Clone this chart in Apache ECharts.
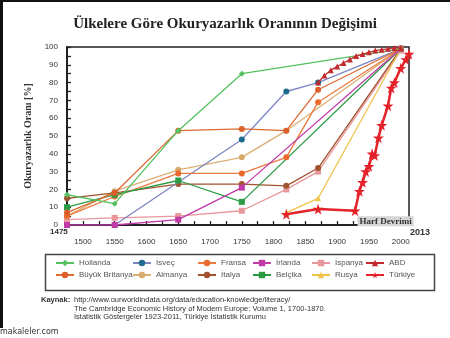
<!DOCTYPE html>
<html>
<head>
<meta charset="utf-8">
<script src="https://cdn.jsdelivr.net/npm/echarts/dist/echarts.min.js"></script>
<style>html,body{margin:0;padding:0;background:#fff;}#c{width:450px;height:338px;}</style>
</head>
<body>
<div id="c"></div>
<script>
// ---- data ----
const seriesNames = ['Hollanda','İsveç','Fransa','İrlanda','İspanya','ABD','Büyük Britanya','Almanya','İtalya','Belçika','Rusya','Türkiye'];
const hollanda = [[1475,17],[1550,12],[1650,53],[1750,85],[2000,99]];
const isvec = [[1550,0],[1750,48],[1820,75],[1870,80],[2000,99]];
const fransa = [[1475,5],[1550,16],[1650,29],[1750,29],[1820,38],[1870,69],[2000,99]];
const irlanda = [[1475,0],[1550,0],[1650,3],[1750,21],[2000,99]];
const ispanya = [[1475,3],[1550,4],[1650,5],[1750,8],[1820,20],[1870,30],[2000,98]];
const abd = [[1870,80],[1880,84],[1890,87],[1900,89],[1910,91],[1920,93],[1930,95],[1940,96],[1950,97],[1960,98],[1970,98.5],[1980,99],[1990,99.5],[2000,99.5]];
const buyukBritanya = [[1475,7],[1550,18],[1650,53],[1750,54],[1820,53],[1870,76],[2000,99]];
const almanya = [[1475,5],[1550,19],[1650,31],[1750,38],[1820,53],[2000,99]];
const italya = [[1475,15],[1550,18],[1650,23],[1750,23],[1820,22],[1870,32],[2000,99]];
const belcika = [[1475,10],[1550,17],[1650,25],[1750,13],[2000,99]];
const rusya = [[1820,7],[1870,15],[2000,99]];
const turkiye = [[1820,6],[1870,9],[1928,8],[1935,19],[1940,24],[1945,30],[1950,33],[1955,40],[1959,39],[1965,49],[1970,56],[1980,67],[1985,77],[1990,80],[2000,88],[2008,93],[2013,96]];
const xTickLabels = [1500,1550,1600,1650,1700,1750,1800,1850,1900,1950,2000];
const yTickLabels = [0,10,20,30,40,50,60,70,80,90,100];
const annotation = {name:'Harf Devrimi', year:1928, value:8};
const sources = ['http://www.ourworldindata.org/data/education-knowledge/literacy/',
  'The Cambridge Economic History of Modern Europe: Volume 1, 1700-1870.',
  'İstatistik Göstergeler 1923-2011, Türkiye İstatistik Kurumu'];

// ---- styles ----
const STAR = 'path://M50,0 L61,35 L98,35 L68,57 L79,91 L50,70 L21,91 L32,57 L2,35 L39,35 Z';
const cfg = {
  'Hollanda':       {d:hollanda, c:'#55c15f', lc:'#55c15f', s:'diamond', z:8},
  'İsveç':          {d:isvec, c:'#1f6b8e', lc:'#7d86c4', s:'circle', z:6},
  'Fransa':         {d:fransa, c:'#ea6a2e', lc:'#ea7a3e', s:'circle', z:6},
  'İrlanda':        {d:irlanda, c:'#c03aa8', lc:'#c03aa8', s:'rect', z:7},
  'İspanya':        {d:ispanya, c:'#e8979c', lc:'#e8979c', s:'rect', z:5},
  'ABD':            {d:abd, c:'#c22a30', lc:'#c22a30', s:'triangle', z:9},
  'Büyük Britanya': {d:buyukBritanya, c:'#dc5f2a', lc:'#dc6a32', s:'circle', z:7},
  'Almanya':        {d:almanya, c:'#d8a86c', lc:'#dcae74', s:'circle', z:5},
  'İtalya':         {d:italya, c:'#a0532e', lc:'#a0532e', s:'circle', z:5},
  'Belçika':        {d:belcika, c:'#2b9c45', lc:'#2b9c45', s:'rect', z:6},
  'Rusya':          {d:rusya, c:'#f0c24c', lc:'#f0c24c', s:'triangle', z:5},
  'Türkiye':        {d:turkiye, c:'#e4222a', lc:'#e4222a', s:STAR, z:10}
};

const series = seriesNames.map(n => {
  const o = cfg[n];
  const isT = n === 'Türkiye';
  const s = {
    name: n, type: 'line', data: o.d, z: o.z,
    symbol: o.s,
    symbolSize: isT ? 11 : (o.s === 'triangle' ? 6 : 6),
    itemStyle: {color: o.c},
    lineStyle: {color: o.lc, width: isT ? 2.5 : 1.3},
    emphasis: {disabled: true}
  };
  if (isT) {
    s.markPoint = {
      symbol: 'circle', symbolSize: 1, itemStyle:{color:'#e4222a'},
      data: [{coord: [annotation.year, annotation.value], name: annotation.name}],
      label: {show: true, formatter: annotation.name, position: [3, 6], align:'left', verticalAlign:'top',
        fontFamily: 'Liberation Serif', fontWeight: 'bold', fontSize: 9, color: '#333',
        backgroundColor: '#d6d6d6', padding: [1, 2, 0, 2]}
    };
  }
  return s;
});

const cols = [[seriesNames[0], seriesNames[6]],[seriesNames[1], seriesNames[7]],[seriesNames[2], seriesNames[8]],
              [seriesNames[3], seriesNames[9]],[seriesNames[4], seriesNames[10]],[seriesNames[5], seriesNames[11]]];
const colLeft = [50, 127, 192, 247, 306, 360];
const legends = cols.map((d, i) => ({
  data: d, orient: 'vertical', left: colLeft[i], top: 254, itemGap: 4,
  itemWidth: 18, itemHeight: 8, selectedMode: false,
  textStyle: {fontFamily: 'Liberation Sans', fontSize: 8, color: '#555'}
}));

const chart = echarts.init(document.getElementById('c'), null, {renderer: 'canvas'});
chart.setOption({
  animation: false,
  backgroundColor: '#fff',
  title: {text: 'Ülkelere Göre Okuryazarlık Oranının Değişimi', left: 'center', top: 12,
    textStyle: {fontFamily: 'Liberation Serif', fontWeight: 'bold', fontSize: 15, color: '#222'}},
  grid: {left: 67, right: 41, top: 47, bottom: 113, show: true, borderColor: '#222', borderWidth: 1.5, backgroundColor: 'transparent'},
  legend: legends,
  xAxis: {type: 'value', min: 1475, max: 2013, interval: 25,
    axisLine: {lineStyle: {color: '#222', width: 2}},
    axisTick: {inside: true, length: 4, lineStyle: {color: '#222', width: 1.3}},
    splitLine: {show: false},
    axisLabel: {showMinLabel: false, showMaxLabel: false, margin: 13,
      formatter: v => xTickLabels.indexOf(v) >= 0 ? String(v) : '',
      fontFamily: 'Liberation Sans', fontSize: 8, color: '#333'}},
  yAxis: {type: 'value', min: 0, max: 100, interval: 5,
    name: 'Okuryazarlık Oranı [%]', nameLocation: 'middle', nameGap: 29, nameRotate: 90,
    nameTextStyle: {fontFamily: 'Liberation Serif', fontWeight: 'bold', fontSize: 10, color: '#333'},
    axisLine: {show: true, lineStyle: {color: '#222', width: 2}},
    axisTick: {show: true, inside: true, length: 4, lineStyle: {color: '#222', width: 1.3}},
    splitLine: {show: false},
    axisLabel: {margin: 9, formatter: v => yTickLabels.indexOf(v) >= 0 ? String(v) : '',
      fontFamily: 'Liberation Sans', fontSize: 8, color: '#333'}},
  series: series,
  graphic: [
    {type: 'rect', left: 0, top: 0, shape: {width: 450, height: 2}, style: {fill: '#111'}, silent: true},
    {type: 'rect', left: 0, top: 0, shape: {width: 3, height: 328}, style: {fill: '#111'}, silent: true},
    {type: 'rect', left: 43, top: 252, shape: {width: 389, height: 36}, style: {fill: 'none', stroke: '#444', lineWidth: 1.5}, silent: true},
    {type: 'text', left: 50, top: 228, style: {text: '1475', fontFamily: 'Liberation Sans', fontWeight: 'bold', fontSize: 8, fill: '#333'}},
    {type: 'text', left: 410, top: 228, style: {text: '2013', fontFamily: 'Liberation Sans', fontWeight: 'bold', fontSize: 9, fill: '#333'}},
    {type: 'text', left: 41, top: 296, style: {text: 'Kaynak:', fontFamily: 'Liberation Sans', fontWeight: 'bold', fontSize: 7.5, fill: '#333'}},
    {type: 'text', left: 74, top: 296, style: {text: sources[0], fontFamily: 'Liberation Sans', fontSize: 7.5, fill: '#333'}},
    {type: 'text', left: 74, top: 305, style: {text: sources[1], fontFamily: 'Liberation Sans', fontSize: 7.5, fill: '#333'}},
    {type: 'text', left: 74, top: 313, style: {text: sources[2], fontFamily: 'Liberation Sans', fontSize: 7.5, fill: '#333'}},
    {type: 'text', left: 0, top: 328, style: {text: 'makaleler.com', fontFamily: 'DejaVu Sans', fontSize: 8, fill: '#333'}}
  ]
});
</script>
</body>
</html>
